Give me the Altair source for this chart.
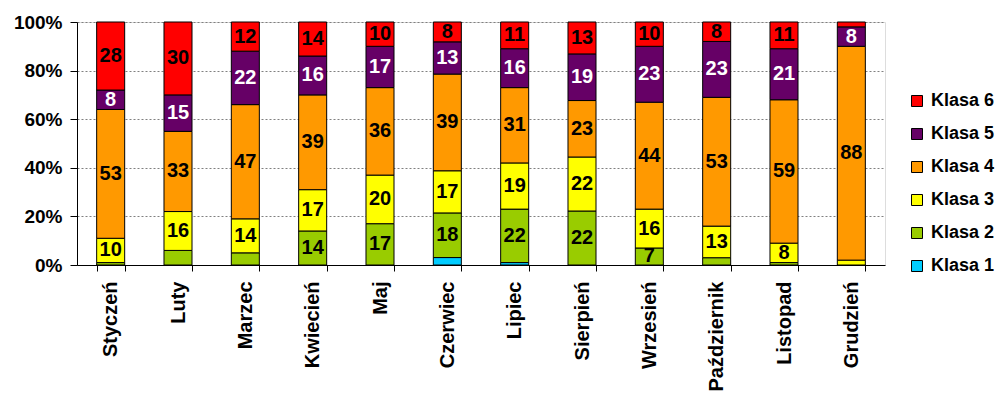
import altair as alt
import pandas as pd

months = ["Styczeń", "Luty", "Marzec", "Kwiecień", "Maj", "Czerwiec", "Lipiec",
          "Sierpień", "Wrzesień", "Październik", "Listopad", "Grudzień"]
classes = ["Klasa 1", "Klasa 2", "Klasa 3", "Klasa 4", "Klasa 5", "Klasa 6"]
colors = ["#00CCFF", "#99CC00", "#FFFF00", "#FF9900", "#660066", "#FF0000"]

k1 = [0, 0, 0, 0, 0, 3, 1, 0, 0, 0, 0, 0]
k2 = [1, 6, 5, 14, 17, 18, 22, 22, 7, 3, 1, 0]
k3 = [10, 16, 14, 17, 20, 17, 19, 22, 16, 13, 8, 2]
k4 = [53, 33, 47, 39, 36, 39, 31, 23, 44, 53, 59, 88]
k5 = [8, 15, 22, 16, 17, 13, 16, 19, 23, 23, 21, 8]
k6 = [28, 30, 12, 14, 10, 8, 11, 13, 10, 8, 11, 2]

series = [k1, k2, k3, k4, k5, k6]
rows = []
for ci, vals in enumerate(series):
    for mi, m in enumerate(months):
        rows.append({"month": m, "klasa": classes[ci], "k": ci + 1, "value": vals[mi]})
df = pd.DataFrame(rows)

FONT = "Liberation Sans"

base = (
    alt.Chart(df)
    .transform_joinaggregate(total="sum(value)", groupby=["month"])
    .transform_calculate(pct="datum.value / datum.total")
    .transform_stack(stack="pct", groupby=["month"],
                     sort=[alt.SortField("k", order="ascending")], as_=["y0", "y1"])
)

xenc = alt.X(
    "month:N", sort=months,
    scale=alt.Scale(paddingInner=0.584, paddingOuter=0.292),
    axis=alt.Axis(title=None, labelAngle=270, labelAlign="right", labelBaseline="middle",
                  labelPadding=10, tickSize=6, tickBand="extent", domainColor="black",
                  tickColor="black", labelColor="black", labelFont=FONT, labelFontSize=20,
                  labelFontWeight="bold", grid=False),
)

bars = base.mark_bar(stroke="black", strokeWidth=1).encode(
    x=xenc,
    y=alt.Y("y0:Q", scale=alt.Scale(domain=[0, 1], nice=False),
            axis=alt.Axis(title=None, values=[0, 0.2, 0.4, 0.6, 0.8, 1.0], format=".0%",
                          labelFont=FONT, labelFontSize=19, labelFontWeight="bold",
                          labelColor="black", domainColor="black", tickColor="black",
                          tickSize=7, labelPadding=8, grid=True, gridColor="#808080",
                          gridDash=[2, 2], gridWidth=1)),
    y2="y1:Q",
    color=alt.Color(
        "klasa:N",
        scale=alt.Scale(domain=classes[::-1], range=colors[::-1]),
        legend=alt.Legend(title=None, orient="none", legendX=831, legendY=70,
                          padding=0, symbolType="square", symbolSize=121,
                          symbolStrokeColor="black", symbolStrokeWidth=1,
                          symbolOpacity=1, labelFont=FONT, labelFontSize=18,
                          labelFontWeight="bold", labelColor="black", labelOffset=5,
                          rowPadding=15, labelLimit=200),
    ),
)

labels = (
    base.transform_filter("datum.value >= 7")
    .transform_calculate(mid="(datum.y0 + datum.y1) / 2")
    .mark_text(font=FONT, fontSize=20, fontWeight="bold", baseline="middle", align="center")
    .encode(
        x=alt.X("month:N", sort=months),
        y=alt.Y("mid:Q"),
        text=alt.Text("value:Q"),
        color=alt.condition("datum.k == 5", alt.value("white"), alt.value("black")),
    )
)

chart = (
    alt.layer(bars, labels)
    .properties(width=808, height=243,
                autosize=alt.AutoSizeParams(type="none"),
                padding={"left": 69, "top": 14, "right": 115, "bottom": 127})
    .configure_view(stroke="#808080", strokeWidth=1)
    .configure(font=FONT)
)

chart.save("out.html", embed_options={"renderer": "svg", "actions": False})
